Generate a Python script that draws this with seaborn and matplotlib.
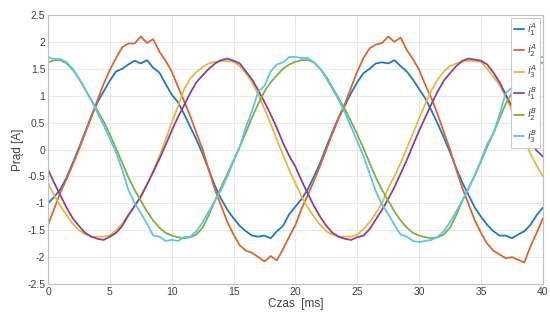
import numpy as np
import pandas as pd
import matplotlib
matplotlib.use("Agg")
import matplotlib.pyplot as plt
import seaborn as sns

# time axis [ms], sampled every 0.5 ms
time_ms = [i * 0.5 for i in range(81)]

A1 = [-1.00, -0.88, -0.74, -0.52, -0.25, 0.03, 0.32, 0.62, 0.88, 1.08,
      1.28, 1.45, 1.50, 1.58, 1.65, 1.60, 1.66, 1.52, 1.43, 1.22,
      1.02, 0.88, 0.66, 0.42, 0.18, -0.08, -0.38, -0.68, -0.92, -1.12,
      -1.28, -1.42, -1.52, -1.60, -1.62, -1.60, -1.65, -1.52, -1.42, -1.20,
      -1.06, -0.92, -0.74, -0.50, -0.25, 0.05, 0.33, 0.60, 0.82, 1.05,
      1.25, 1.42, 1.50, 1.60, 1.62, 1.60, 1.66, 1.55, 1.45, 1.30,
      1.12, 0.95, 0.72, 0.48, 0.22, -0.05, -0.35, -0.62, -0.85, -1.08,
      -1.25, -1.40, -1.52, -1.60, -1.60, -1.65, -1.58, -1.52, -1.40, -1.22,
      -1.08]
A2 = [-1.40, -1.10, -0.80, -0.55, -0.28, 0.00, 0.30, 0.60, 0.92, 1.22,
      1.48, 1.70, 1.90, 1.97, 1.97, 2.10, 1.98, 2.05, 1.82, 1.65,
      1.45, 1.17, 0.90, 0.62, 0.30, 0.00, -0.38, -0.75, -1.05, -1.35,
      -1.58, -1.78, -1.88, -1.92, -2.00, -2.08, -1.98, -2.06, -1.85, -1.62,
      -1.40, -1.10, -0.85, -0.58, -0.30, 0.00, 0.30, 0.58, 0.85, 1.15,
      1.45, 1.70, 1.88, 1.95, 1.98, 2.10, 2.00, 2.08, 1.85, 1.68,
      1.48, 1.20, 0.95, 0.65, 0.32, 0.00, -0.38, -0.72, -1.02, -1.32,
      -1.55, -1.75, -1.88, -1.95, -2.02, -2.00, -2.05, -2.10, -1.80, -1.55,
      -1.28]
A3 = [-0.63, -0.85, -1.05, -1.22, -1.38, -1.50, -1.57, -1.62, -1.62, -1.62,
      -1.60, -1.50, -1.38, -1.22, -1.05, -0.86, -0.65, -0.40, -0.12, 0.18,
      0.50, 0.80, 1.12, 1.32, 1.44, 1.53, 1.60, 1.63, 1.65, 1.64,
      1.63, 1.55, 1.42, 1.25, 1.02, 0.75, 0.48, 0.18, -0.10, -0.38,
      -0.63, -0.88, -1.08, -1.25, -1.40, -1.52, -1.58, -1.62, -1.62, -1.62,
      -1.58, -1.48, -1.35, -1.18, -1.00, -0.72, -0.50, -0.25, 0.02, 0.30,
      0.58, 0.85, 1.10, 1.30, 1.45, 1.55, 1.60, 1.63, 1.65, 1.64,
      1.63, 1.50, 1.35, 1.20, 0.98, 0.72, 0.45, 0.18, -0.08, -0.30,
      -0.50]
B1 = [-0.37, -0.62, -0.85, -1.08, -1.28, -1.42, -1.55, -1.62, -1.66, -1.68,
      -1.62, -1.55, -1.42, -1.22, -1.05, -0.88, -0.65, -0.42, -0.18, 0.08,
      0.35, 0.60, 0.82, 1.05, 1.25, 1.38, 1.50, 1.60, 1.66, 1.69,
      1.65, 1.60, 1.45, 1.30, 1.10, 0.88, 0.65, 0.40, 0.12, -0.12,
      -0.32, -0.58, -0.82, -1.05, -1.25, -1.42, -1.55, -1.62, -1.66, -1.68,
      -1.63, -1.60, -1.48, -1.30, -1.12, -0.92, -0.70, -0.45, -0.20, 0.08,
      0.35, 0.60, 0.85, 1.08, 1.28, 1.42, 1.55, 1.65, 1.69, 1.67,
      1.65, 1.58, 1.43, 1.25, 1.02, 0.80, 0.58, 0.35, 0.12, -0.02,
      -0.13]
B2 = [1.62, 1.66, 1.66, 1.60, 1.48, 1.32, 1.12, 0.92, 0.72, 0.52,
      0.28, 0.02, -0.25, -0.52, -0.75, -0.95, -1.15, -1.32, -1.45, -1.55,
      -1.60, -1.63, -1.65, -1.63, -1.58, -1.45, -1.22, -0.95, -0.70, -0.45,
      -0.20, 0.05, 0.32, 0.60, 0.85, 1.08, 1.25, 1.38, 1.50, 1.58,
      1.63, 1.66, 1.66, 1.62, 1.50, 1.35, 1.15, 0.95, 0.75, 0.52,
      0.28, 0.02, -0.25, -0.52, -0.75, -0.95, -1.15, -1.32, -1.45, -1.55,
      -1.60, -1.63, -1.65, -1.63, -1.58, -1.45, -1.22, -0.95, -0.72, -0.48,
      -0.22, 0.05, 0.30, 0.58, 0.85, 1.05, 1.22, 1.38, 1.50, 1.58,
      1.62]
B3 = [1.72, 1.68, 1.68, 1.62, 1.50, 1.32, 1.12, 0.92, 0.68, 0.45,
      0.20, -0.05, -0.38, -0.75, -1.00, -1.18, -1.38, -1.60, -1.62, -1.70,
      -1.68, -1.70, -1.63, -1.62, -1.52, -1.35, -1.15, -0.95, -0.75, -0.50,
      -0.22, 0.05, 0.42, 0.72, 1.08, 1.18, 1.45, 1.58, 1.62, 1.72,
      1.72, 1.70, 1.70, 1.62, 1.50, 1.32, 1.12, 0.92, 0.68, 0.42,
      0.15, -0.12, -0.45, -0.78, -1.02, -1.20, -1.40, -1.58, -1.62, -1.70,
      -1.72, -1.70, -1.68, -1.62, -1.52, -1.35, -1.15, -0.95, -0.72, -0.48,
      -0.20, 0.10, 0.30, 0.65, 1.05, 1.15, 1.40, 1.55, 1.62, 1.70,
      1.72]

series_names = ["A1", "A2", "A3", "B1", "B2", "B3"]
legend_labels = [r"$i^{A}_{1}$", r"$i^{A}_{2}$", r"$i^{A}_{3}$",
                 r"$i^{B}_{1}$", r"$i^{B}_{2}$", r"$i^{B}_{3}$"]
colors = ["#1f78c0", "#de6430", "#eab83a", "#8a3f98", "#80b040", "#5ec4ee"]

x_ticks = [0, 5, 10, 15, 20, 25, 30, 35, 40]
y_ticks = [-2.5, -2, -1.5, -1, -0.5, 0, 0.5, 1, 1.5, 2, 2.5]
y_tick_labels = ["-2.5", "-2", "-1.5", "-1", "-0.5", "0", "0.5", "1", "1.5", "2", "2.5"]

rows = []
for name, vals in zip(series_names, [A1, A2, A3, B1, B2, B3]):
    for t, v in zip(time_ms, vals):
        rows.append({"t": t, "v": v, "series": name})
df = pd.DataFrame(rows)

sns.set_style("white")
plt.rcParams["font.family"] = ["Liberation Sans", "DejaVu Sans"]

fig = plt.figure(figsize=(5.5, 3.23), dpi=100)
ax = fig.add_axes([0.0873, 0.1207, 0.8997, 0.8329])

sns.lineplot(data=df, x="t", y="v", hue="series", palette=colors,
             linewidth=1.3, ax=ax, legend=False)

ax.set_xlim(0, 40)
ax.set_ylim(-2.5, 2.5)
ax.set_xticks(x_ticks)
ax.set_xticklabels([str(v) for v in x_ticks])
ax.set_yticks(y_ticks)
ax.set_yticklabels(y_tick_labels)
ax.grid(True, color="#e8e8e8", linewidth=0.7)
ax.set_axisbelow(True)
for s in ax.spines.values():
    s.set_color("#c0c0c0")
    s.set_linewidth(0.8)
ax.tick_params(direction="in", length=3, color="#c0c0c0", labelsize=7.5,
               labelcolor="#404040", pad=2)
ax.set_xlabel("Czas  [ms]", fontsize=8.5, color="#404040", labelpad=1)
ax.set_ylabel("Prąd [A]", fontsize=8.5, color="#404040", labelpad=2)

handles = [plt.Line2D([], [], color=c, linewidth=1.3) for c in colors]
leg = ax.legend(handles, legend_labels, loc="upper right", fontsize=7.5,
                handlelength=1.0, handletextpad=0.25, labelspacing=0.45,
                borderpad=0.3, borderaxespad=0.25, fancybox=False,
                framealpha=1, edgecolor="#c8c8c8")
leg.get_frame().set_linewidth(0.7)
for txt in leg.get_texts():
    txt.set_color("#404040")

fig.savefig("out.png", dpi=100)
